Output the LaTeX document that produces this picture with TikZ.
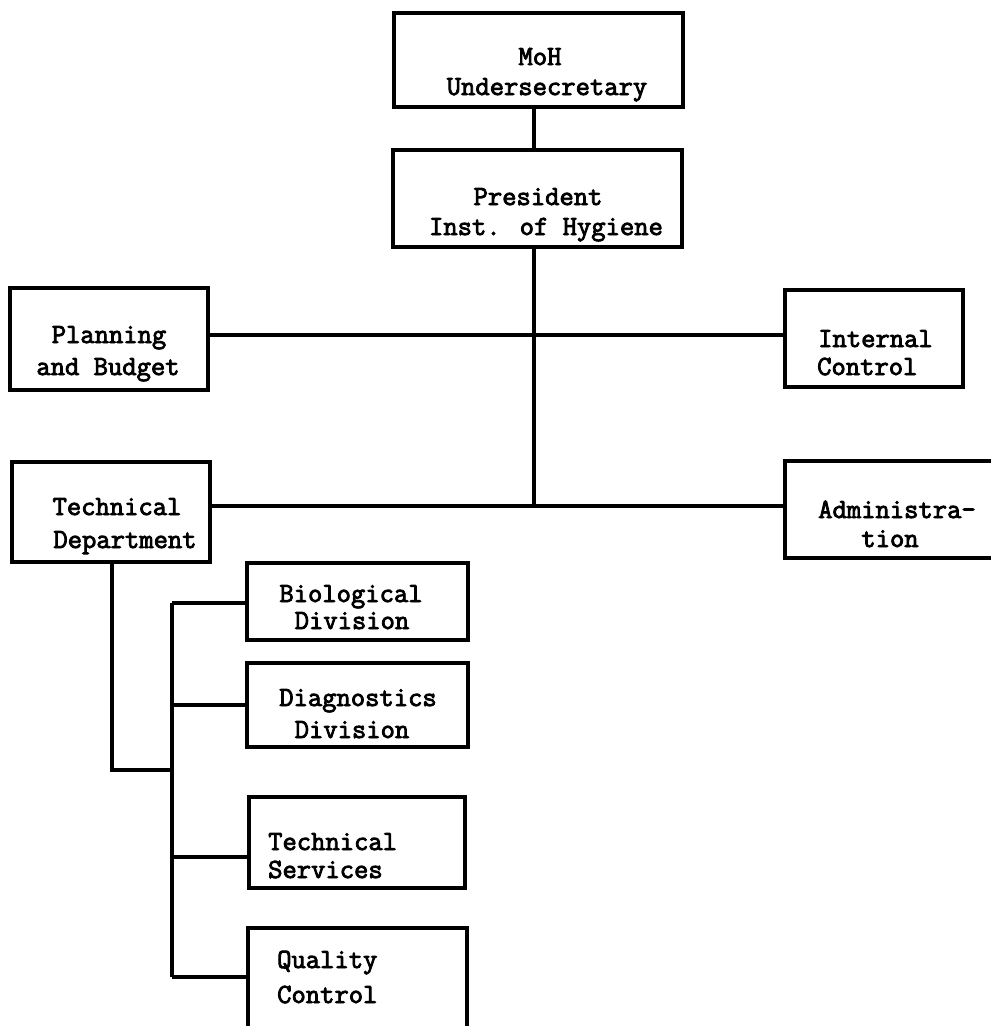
\documentclass[tikz,border=0pt]{standalone}
\usepackage{fontspec}
\newfontfamily\twfont{Latin Modern Mono}[FakeBold=3]
\begin{document}
\begin{tikzpicture}[x=1pt,y=-1pt,
  box/.style={draw=black, line width=3.2pt, rectangle, inner sep=0pt},
  lbl/.style={font=\fontsize{27.8}{30}\selectfont\twfont, inner sep=0pt, text=black},
  conn/.style={draw=black, line width=3.2pt}]
\useasboundingbox (0,0) rectangle (991,1026);
% boxes
\node[box, minimum width=289pt, minimum height=94pt] (moh) at (538.5,60) {};
\node[box, minimum width=289pt, minimum height=97pt] (pres) at (537.5,198.5) {};
\node[box, minimum width=198pt, minimum height=102pt] (plan) at (109,339) {};
\node[box, minimum width=178pt, minimum height=97pt] (ic) at (874,338.5) {};
\node[box, minimum width=198pt, minimum height=100pt] (tech) at (111,512) {};
\node[box, minimum width=215pt, minimum height=97pt] (admin) at (892.5,509.5) {};
\node[box, minimum width=221pt, minimum height=77pt] (bio) at (357.5,601.5) {};
\node[box, minimum width=221pt, minimum height=84pt] (diag) at (357.5,705) {};
\node[box, minimum width=216pt, minimum height=91pt] (ts) at (357,842.5) {};
\node[box, minimum width=219pt, minimum height=107pt] (qc) at (357.5,981.5) {};
% labels
\node[lbl, anchor=base] (t1a) at (540,65) {MoH};
\node[lbl, anchor=base] (t1b) at (547,95) {Undersecretary};
\node[lbl, anchor=base] (t2a) at (538,205) {President};
\node[lbl, anchor=base] (t2b) at (546,235) {Inst. of Hygiene};
\node[lbl, anchor=base] (t3a) at (109,343) {Planning};
\node[lbl, anchor=base] (t3b) at (108,375) {and Budget};
\node[lbl, anchor=base west] (t4a) at (818,347) {Internal};
\node[lbl, anchor=base west] (t4b) at (817,375) {Control};
\node[lbl, anchor=base] (t5a) at (117,515) {Technical};
\node[lbl, anchor=base] (t5b) at (125,548) {Department};
\node[lbl, anchor=base] (t6a) at (897,518) {Administra-};
\node[lbl, anchor=base] (t6b) at (890,547) {tion};
\node[lbl, anchor=base] (t7a) at (351,602) {Biological};
\node[lbl, anchor=base] (t7b) at (352,629) {Division};
\node[lbl, anchor=base] (t8a) at (358,706) {Diagnostics};
\node[lbl, anchor=base] (t8b) at (352,738) {Division};
\node[lbl, anchor=base west] (t9a) at (268,850) {Technical};
\node[lbl, anchor=base west] (t9b) at (268,878) {Services};
\node[lbl, anchor=base west] (t10a) at (277,968) {Quality};
\node[lbl, anchor=base west] (t10b) at (277,1003) {Control};
% junctions
\coordinate (j1) at (534,335);
\coordinate (j2) at (534,506);
\coordinate (k1) at (112,770);
\coordinate (s1) at (172,603);
\coordinate (s2) at (172,705);
\coordinate (s3) at (172,857);
\coordinate (s4) at (172,977);
% connectors
\draw[conn] (moh.south -| j1) -- (pres.north -| j1);
\draw[conn] (pres.south -| j1) -- (j2);
\draw[conn] (plan.east |- j1) -- (ic.west |- j1);
\draw[conn] (tech.east |- j2) -- (admin.west |- j2);
\draw[conn] (tech.south -| k1) -- (k1) -- (k1 -| s1);
\draw[conn] (s1) -- (s4);
\draw[conn] (s1) -- (bio.west |- s1);
\draw[conn] (s2) -- (diag.west |- s2);
\draw[conn] (s3) -- (ts.west |- s3);
\draw[conn] (s4) -- (qc.west |- s4);
\end{tikzpicture}
\end{document}
